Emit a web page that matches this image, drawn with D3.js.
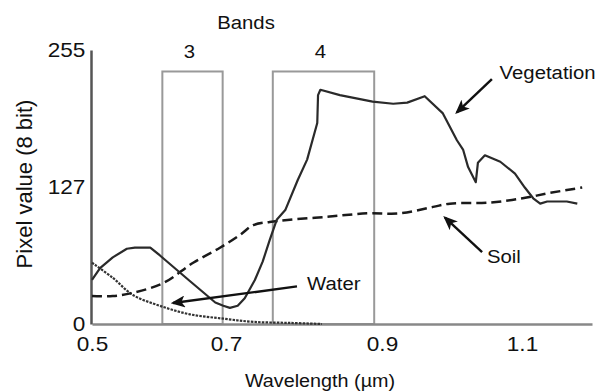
<!DOCTYPE html>
<html>
<head>
<meta charset="utf-8">
<script src="https://cdn.jsdelivr.net/npm/d3@7"></script>
<style>
  body { margin: 0; background: #fff; }
  text { font-family: "Liberation Sans", Arial, sans-serif; fill: #111; }
</style>
</head>
<body>
<svg id="chart"></svg>
<script>
// spectral reflectance curves (wavelength in µm, pixel value 0-255)
const vegWl = [0.500, 0.512, 0.531, 0.552, 0.564, 0.587, 0.601, 0.646, 0.684, 0.696, 0.705, 0.715,
  0.724, 0.737, 0.747, 0.756, 0.765, 0.776, 0.792, 0.804, 0.817, 0.818, 0.821, 0.846, 0.888, 0.916,
  0.936, 0.961, 0.987, 1.007, 1.016, 1.023, 1.034, 1.037, 1.047, 1.069, 1.090, 1.104, 1.116, 1.126,
  1.136, 1.164, 1.179];
const vegVal = [41, 52, 62, 70, 71, 71, 64, 40, 20, 17, 15, 17,
  24, 41, 58, 78, 97, 106, 134, 153, 187, 213, 218, 213, 207, 205,
  206, 212, 196, 171, 162, 146, 132, 150, 157, 151, 140, 127, 117, 112,
  114, 114, 112];

const soilWl = [0.500, 0.531, 0.561, 0.606, 0.651, 0.691, 0.718, 0.735, 0.756, 0.782, 0.833, 0.881,
  0.926, 0.973, 0.997, 1.054, 1.101, 1.140, 1.186];
const soilVal = [26, 26, 29, 38, 57, 71, 83, 92, 95, 97, 100, 103,
  103, 109, 112, 113, 117, 122, 127];

const waterWl = [0.500, 0.531, 0.561, 0.601, 0.646, 0.696, 0.735, 0.782, 0.823];
const waterVal = [57, 43, 27, 17, 9, 5, 2, 1, 0];

// Landsat bands drawn as boxes
const bandNames = ['3', '4'];
const bandStart = [0.605, 0.760];
const bandEnd = [0.695, 0.890];
const bandTop = 235;

const xTicks = [0.5, 0.7, 0.9, 1.1];
const yTicks = [0, 127, 255];

// labelled arrows: [text, text wl, text value, tail wl, tail value, head wl, head value]
const notes = [
  ['Vegetation', 1.068, 228, 1.057, 228, 1.007, 197],
  ['Soil', 1.050, 57, 1.043, 67, 0.990, 99],
  ['Water', 0.804, 32, 0.791, 35, 0.621, 19.5]
];

const width = 598, height = 391;
const svg = d3.select('#chart').attr('width', width).attr('height', height);

// the printed axis is not evenly spaced, so the scale follows the printed ticks
const x = d3.scaleLinear()
  .domain([0.5, 0.7, 0.9, 1.1, 1.2])
  .range([92, 226, 382, 522, 592]);
const y = d3.scaleLinear().domain([0, 255]).range([324, 50]);

const stretch = 'scale(1.13,1)';

// band boxes
const bands = svg.append('g').attr('class', 'bands');
bandNames.forEach((b, i) => {
  bands.append('rect')
    .attr('x', x(bandStart[i]))
    .attr('y', y(bandTop))
    .attr('width', x(bandEnd[i]) - x(bandStart[i]))
    .attr('height', y(0) - y(bandTop))
    .attr('fill', 'none')
    .attr('stroke', '#999')
    .attr('stroke-width', 2);
  bands.append('text')
    .attr('transform', `translate(${ (x(bandStart[i]) + x(bandEnd[i])) / 2 - 3 },${ y(bandTop) - 13 }) ${ stretch }`)
    .attr('text-anchor', 'middle')
    .attr('font-size', 18)
    .text(b);
});

svg.append('text')
  .attr('transform', `translate(246,29) ${ stretch }`)
  .attr('text-anchor', 'middle')
  .attr('font-size', 18)
  .text('Bands');

// axes
const xAxis = svg.append('g')
  .attr('transform', `translate(0,${ y(0) })`)
  .call(d3.axisBottom(x).tickValues(xTicks).tickFormat(d3.format('.1f'))
    .tickSize(0).tickPadding(13));
xAxis.select('.domain').attr('stroke', '#888').attr('stroke-width', 2.5);
xAxis.selectAll('text').attr('font-size', 20).attr('font-family', null)
  .attr('transform', stretch).style('fill', '#111');

const yAxis = svg.append('g')
  .attr('transform', `translate(${ x(0.5) - 1 },0)`)
  .call(d3.axisLeft(y).tickValues(yTicks).tickSize(0).tickPadding(5));
yAxis.select('.domain').attr('stroke', '#555').attr('stroke-width', 2.5);
yAxis.selectAll('text').attr('font-size', 20).attr('font-family', null)
  .attr('transform', stretch).style('fill', '#111');

svg.append('text')
  .attr('transform', `translate(320,387) ${ stretch }`)
  .attr('text-anchor', 'middle')
  .attr('font-size', 17.5)
  .text('Wavelength (µm)');

svg.append('text')
  .attr('transform', 'translate(32,184) rotate(-90)')
  .attr('text-anchor', 'middle')
  .attr('font-size', 22)
  .text('Pixel value (8 bit)');

// curves
const line = d3.line().x(d => x(d[0])).y(d => y(d[1]));

svg.append('path')
  .datum(d3.zip(waterWl, waterVal))
  .attr('d', line.curve(d3.curveCatmullRom))
  .attr('fill', 'none')
  .attr('stroke', '#333')
  .attr('stroke-width', 2.2)
  .attr('stroke-dasharray', '2.5,1.2');

svg.append('path')
  .datum(d3.zip(soilWl, soilVal))
  .attr('d', line.curve(d3.curveCatmullRom))
  .attr('fill', 'none')
  .attr('stroke', '#1a1a1a')
  .attr('stroke-width', 2.5)
  .attr('stroke-dasharray', '10,5');

svg.append('path')
  .datum(d3.zip(vegWl, vegVal))
  .attr('d', line.curve(d3.curveLinear))
  .attr('fill', 'none')
  .attr('stroke', '#2a2a2a')
  .attr('stroke-width', 2.2)
  .attr('stroke-linejoin', 'round');

// arrows and labels
svg.append('defs').append('marker')
  .attr('id', 'head')
  .attr('viewBox', '0 0 12 10')
  .attr('refX', 10).attr('refY', 5)
  .attr('markerWidth', 6).attr('markerHeight', 5)
  .attr('orient', 'auto')
  .append('path')
  .attr('d', 'M0,0 L12,5 L0,10 L3,5 Z')
  .attr('fill', '#111');

notes.forEach(n => {
  svg.append('line')
    .attr('x1', x(n[3])).attr('y1', y(n[4]))
    .attr('x2', x(n[5])).attr('y2', y(n[6]))
    .attr('stroke', '#111')
    .attr('stroke-width', 2.4)
    .attr('marker-end', 'url(#head)');
  svg.append('text')
    .attr('transform', `translate(${ x(n[1]) },${ y(n[2]) }) ${ stretch }`)
    .attr('font-size', 18)
    .text(n[0]);
});
</script>
</body>
</html>
